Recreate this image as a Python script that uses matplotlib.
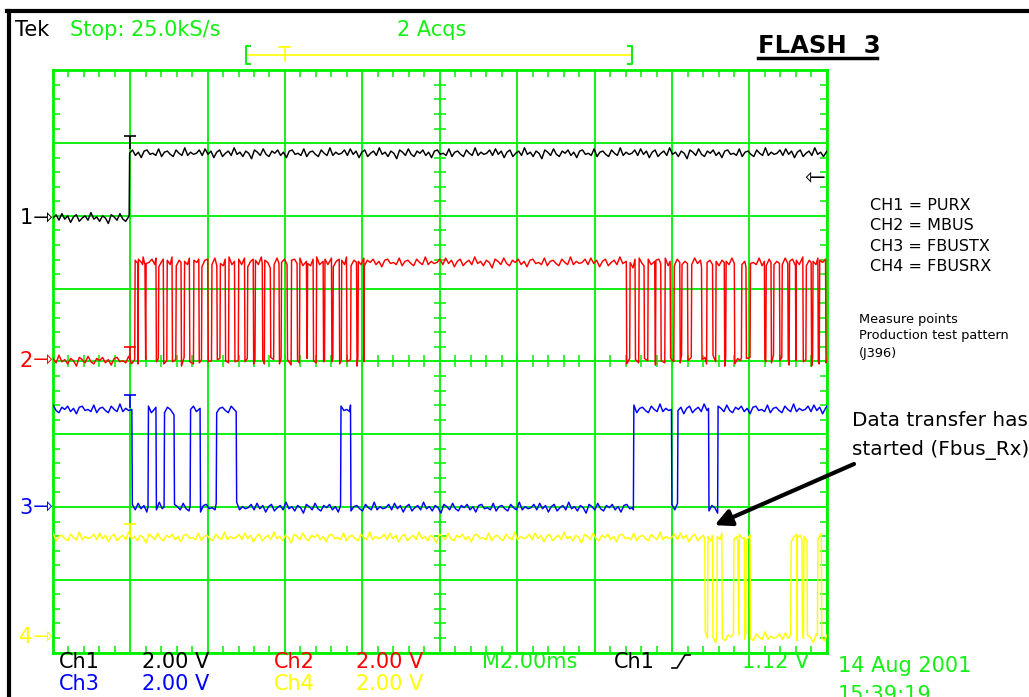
import numpy as np
import matplotlib.pyplot as plt
from matplotlib.lines import Line2D
from matplotlib.path import Path
from matplotlib.transforms import blended_transform_factory

W, H = 1029, 697

# scope settings: 2 ms/div (10 div), 2 V/div (8 div)
t_total = 20.0
n_vdiv = 8

# ground / high level of every channel, in divisions from the bottom
ch1_lo, ch1_hi = 5.97, 6.86
ch2_lo, ch2_hi = 4.01, 5.36
ch3_lo, ch3_hi = 1.99, 3.34
ch4_lo, ch4_hi = 0.21, 1.58

# time spans (ms) where each signal is high
ch1_high = [(2.0, 20.0)]
ch2_high = [(2.143, 2.176), (2.228, 2.298), (2.324, 2.358), (2.427, 2.642),
            (2.754, 2.832), (2.972, 3.057), (3.205, 3.290), (3.420, 3.505),
            (3.661, 3.749), (3.868, 3.982), (4.127, 4.215), (4.345, 4.430),
            (4.567, 4.671), (4.819, 4.930), (5.052, 5.155), (5.251, 5.389),
            (5.492, 5.596), (5.733, 5.821), (5.925, 6.029), (6.184, 6.288),
            (6.399, 6.529), (6.599, 6.702), (6.832, 6.961), (7.047, 7.176),
            (7.262, 7.376), (7.479, 7.565), (7.720, 7.824), (7.909, 8.013),
            (8.065, 14.793), (14.930, 15.018), (15.163, 15.251), (15.397, 15.526),
            (15.596, 15.682), (15.837, 15.925), (16.070, 16.174), (16.270, 16.373),
            (16.521, 16.736), (16.917, 17.021), (17.151, 17.324), (17.410, 17.583),
            (17.816, 17.884), (18.039, 18.360), (18.446, 18.531), (18.646, 18.749),
            (18.860, 18.964), (19.049, 19.163), (19.223, 19.353), (19.482, 19.568),
            (19.656, 19.741), (19.827, 19.940)]
ch3_high = [(0.0, 2.02), (2.487, 2.642), (2.902, 3.109), (3.575, 3.782),
            (4.249, 4.715), (7.461, 7.668), (15.026, 15.959), (16.166, 16.917),
            (17.202, 20.0)]
ch4_high = [(0.0, 16.82), (16.94, 17.02), (17.18, 17.26), (17.61, 17.67),
            (17.75, 17.84), (17.93, 17.99), (19.09, 19.20), (19.25, 19.33),
            (19.42, 19.46), (19.78, 19.83)]

# hand typed trace jitter (hundredths of a division)
jit = [0, 3, -2, 4, -1, 2, -4, 1, 3, -3, 0, 2, -2, 5, -1, 1, -3, 2, 0, -5,
       3, 1, -2, 4, -1, -3, 2, 0, 3, -2, 1, -4, 2, 3, -1, 0, -2, 4, -3, 1,
       2, -1, -3, 3, 0, -2, 5, -2, 1, -1]

green = '#14f014'
grid_green = '#00f000'


def build(highs, lo, hi, shift):
    segs = []
    t = 0.0
    for a, b in highs:
        a = max(0.0, a - 0.025)
        b = min(t_total, b + 0.025)
        if a > t:
            segs.append((t, a, lo))
        segs.append((max(a, t), b, hi))
        t = b
    if t < t_total:
        segs.append((t, t_total, lo))
    ts, vs = [], []
    k = shift
    for a, b, lev in segs:
        pts = list(np.arange(a + 0.012, b - 0.02, 0.075)) + [b]
        for p in pts:
            ts.append(p)
            vs.append(lev + jit[k % len(jit)] * 0.015)
            k += 1
    return ts, vs


fig = plt.figure(figsize=(W / 100, H / 100), dpi=100)
fig.patch.set_facecolor('white')


def px(x, y):
    return x / W, 1 - y / H


ax = fig.add_axes([52.7 / W, 1 - 652.5 / H, 774.2 / W, 582.2 / H])
ax.set_xlim(0, t_total)
ax.set_ylim(0, n_vdiv)
ax.set_xticks(np.arange(0, 20.01, 2))
ax.set_yticks(np.arange(0, 8.01, 1))
ax.set_xticks(np.arange(0, 20.01, 0.4), minor=True)
ax.set_yticks(np.arange(0, 8.01, 0.2), minor=True)
ax.grid(True, which='major', color=grid_green, lw=1.3, zorder=1)
ax.tick_params(which='major', length=0, labelbottom=False, labelleft=False)
ax.tick_params(which='minor', direction='in', length=5, width=1.1,
               color=grid_green, top=True, right=True)
for s in ax.spines.values():
    s.set_color(grid_green)
    s.set_linewidth(2)
ax.set_axisbelow(True)

# centre cross ticks
cx = np.arange(0, 20.01, 0.4)
cy = np.arange(0, 8.01, 0.2)
ax.plot(cx, [4] * len(cx), '|', color=grid_green, ms=8, mew=1.1, zorder=1)
ax.plot([10] * len(cy), cy, '_', color=grid_green, ms=8, mew=1.1, zorder=1)

chans = [(ch1_high, ch1_lo, ch1_hi, 'black', '1', 0),
         (ch2_high, ch2_lo, ch2_hi, '#ff0000', '2', 11),
         (ch3_high, ch3_lo, ch3_hi, '#0000ff', '3', 23),
         (ch4_high, ch4_lo, ch4_hi, '#ffff00', '4', 37)]
ytrans = blended_transform_factory(ax.transAxes, ax.transData)
for highs, lo, hi, col, name, sh in chans:
    ts, vs = build(highs, lo, hi, sh)
    ax.plot(ts, vs, color=col, lw=1.05, zorder=3)
    ax.text(-0.026, lo, name, transform=ytrans, ha='right', va='center',
            color=col, fontsize=15, clip_on=False)
    ax.text(-0.001, lo, '\u21fe', transform=ytrans, ha='right', va='center',
            color=col, fontsize=17, clip_on=False)

# trigger "T" markers
tmark = Path([(-0.4, 1.0), (0.4, 1.0), (0, 1.0), (0, 0.1)],
             [Path.MOVETO, Path.LINETO, Path.MOVETO, Path.LINETO])
for lev, col in [(ch1_hi + 0.05, 'black'), (ch2_lo, '#ff0000'),
                 (ch3_hi, '#0000ff'), (ch4_hi, '#ffff00')]:
    ax.plot([2.0], [lev], marker=tmark, ms=20, mew=1.2, color=col,
            ls='none', zorder=4, clip_on=False)

# ch1 trigger level (1.12 V)
ax.text(0.998, ch1_lo + 1.12 / 2, '\u21fd', transform=ytrans, ha='right',
        va='center', fontsize=18, color='black')

# arrow pointing at start of Fbus_Rx traffic
ax.annotate('', xy=(17.1, 1.75), xycoords='data',
            xytext=(854, H - 464), textcoords='figure pixels',
            arrowprops=dict(arrowstyle='-|>,head_length=1.0,head_width=0.5',
                            color='black', lw=3, shrinkA=0, shrinkB=0))

# frame
fig.add_artist(Line2D([7 / W, 1], [1 - 10.5 / H, 1 - 10.5 / H], color='black', lw=3))
fig.add_artist(Line2D([8.5 / W, 8.5 / W], [0, 1 - 10.5 / H], color='black', lw=3))

# header
fig.text(*px(15, 30), 'Tek', color='black', fontsize=15, va='center')
fig.text(*px(70, 30), 'Stop: 25.0kS/s', color=green, fontsize=15, va='center')
fig.text(*px(397, 30), '2 Acqs', color=green, fontsize=15, va='center')
fig.add_artist(Line2D([249 / W, 631 / W], [1 - 55 / H] * 2, color='#ffff00', lw=1.2))
fig.add_artist(Line2D([250 / W, 246 / W, 246 / W, 250 / W],
                      [1 - 46 / H, 1 - 46 / H, 1 - 64 / H, 1 - 64 / H], color=green, lw=1.5))
fig.add_artist(Line2D([628 / W, 632 / W, 632 / W, 628 / W],
                      [1 - 46 / H, 1 - 46 / H, 1 - 64 / H, 1 - 64 / H], color=green, lw=1.5))
fig.add_artist(Line2D([279 / W, 290 / W], [1 - 47 / H] * 2, color='#ffff00', lw=1.2))
fig.add_artist(Line2D([284.5 / W, 284.5 / W], [1 - 47 / H, 1 - 61 / H], color='#ffff00', lw=1.2))

fig.text(*px(758, 46), 'FLASH  3', color='black', fontsize=17.5,
         fontweight='bold', va='center')
fig.add_artist(Line2D([758 / W, 877 / W], [1 - 57.5 / H] * 2, color='black', lw=2.5))

# channel legend
legend_lines = ['CH1 = PURX', 'CH2 = MBUS', 'CH3 = FBUSTX', 'CH4 = FBUSRX']
for i, s in enumerate(legend_lines):
    fig.text(*px(870, 205 + i * 20.5), s, color='black', fontsize=11.5, va='center')
for i, s in enumerate(['Measure points', 'Production test pattern', '(J396)']):
    fig.text(*px(859, 319 + i * 17), s, color='black', fontsize=9.3, va='center')

fig.text(*px(852, 421), 'Data transfer has', color='black', fontsize=14.4, va='center')
fig.text(*px(852, 450), 'started (Fbus_Rx)', color='black', fontsize=14.4, va='center')

# bottom readout
row1 = [(59, 'Ch1', 'black'), (142, '2.00 V', 'black'), (274, 'Ch2', '#ff0000'),
        (356, '2.00 V', '#ff0000'), (482, 'M2.00ms', green), (614, 'Ch1', 'black'),
        (742, '1.12 V', green)]
row2 = [(59, 'Ch3', '#0000ff'), (142, '2.00 V', '#0000ff'), (274, 'Ch4', '#ffff00'),
        (356, '2.00 V', '#ffff00')]
for x, s, c in row1:
    fig.text(*px(x, 662), s, color=c, fontsize=15, va='center')
for x, s, c in row2:
    fig.text(*px(x, 684), s, color=c, fontsize=15, va='center')
fig.add_artist(Line2D([672 / W, 677 / W, 685 / W, 690 / W],
                      [1 - 668 / H, 1 - 668 / H, 1 - 655 / H, 1 - 655 / H],
                      color='black', lw=1.2))
fig.text(*px(838, 666), '14 Aug 2001', color=green, fontsize=15, va='center')
# the time stamp runs off the bottom edge in the original screenshot
fig.text(*px(838, 695), '15:39:19', color=green, fontsize=15, va='center')

plt.savefig('out.png', dpi=100)
